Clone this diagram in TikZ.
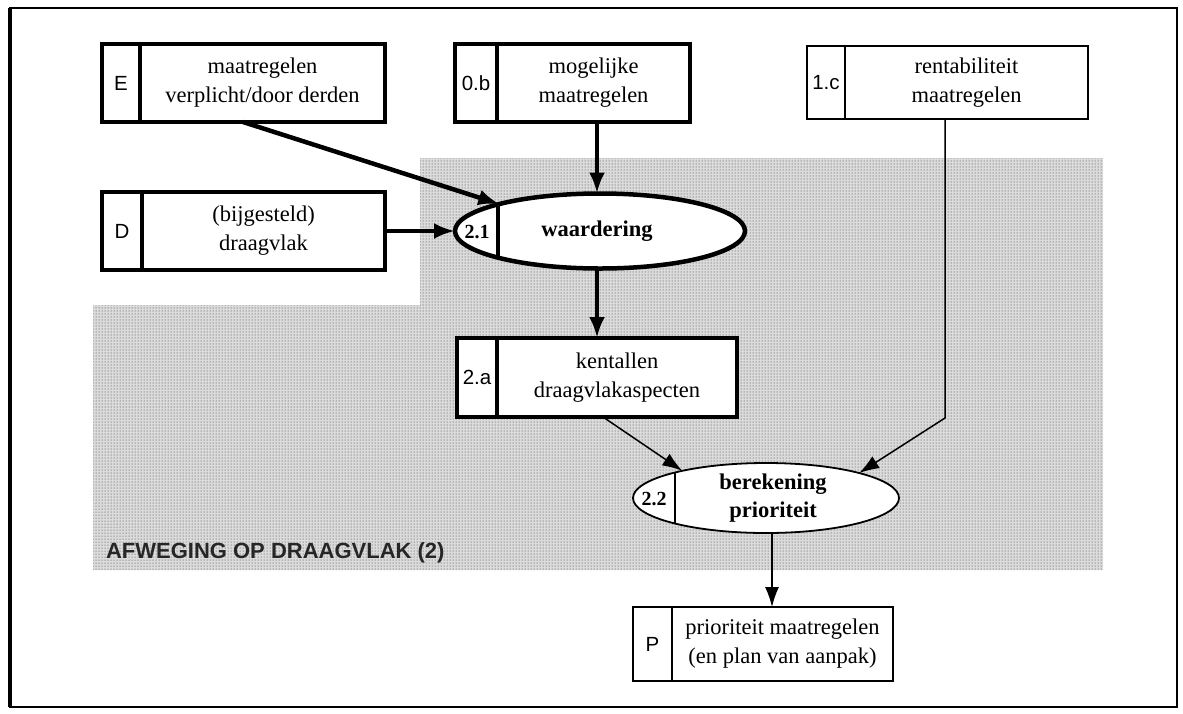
\documentclass[tikz,border=0pt]{standalone}
\usepackage{fontspec}
\setmainfont{Liberation Serif}
\newfontfamily\tagfont{Liberation Sans}
\usetikzlibrary{shapes.geometric,arrows.meta,patterns}

\begin{document}
\begin{tikzpicture}[x=1pt,y=-1pt,
  every node/.style={outer sep=0pt, inner sep=0pt},
  heavy/.style={line width=4.5pt},
  light/.style={line width=1.8pt},
  tagcell/.style={draw, fill=white, font=\tagfont\fontsize{20.5}{24}\selectfont, align=center},
  textcell/.style={draw, fill=white, font=\fontsize{22.5}{29}\selectfont, align=center},
  procnum/.style={font=\bfseries\fontsize{20}{22}\selectfont},
  proctext/.style={font=\bfseries\fontsize{22.5}{28}\selectfont, align=center},
  bigarrow/.style={line width=4.5pt, -{Latex[length=21pt,width=16pt]}},
  smallarrow/.style={line width=1.5pt, -{Latex[length=20pt,width=14pt]}}
]
\useasboundingbox (0,0) rectangle (1183,713);

% outer frame
\draw[line width=2pt] (10,8) rectangle (1177,707);
\draw[line width=4pt] (10,8) -- (10,707);

% shaded area of the weighing step
\path[fill=black!14]
  (93,305) -- (420,305) -- (420,158) -- (1103,158) -- (1103,570) -- (93,570) -- cycle;
\path[pattern=dots, pattern color=black!80]
  (93,305) -- (420,305) -- (420,158) -- (1103,158) -- (1103,570) -- (93,570) -- cycle;
\node[font=\tagfont\bfseries\fontsize{22}{25}\selectfont, anchor=west, text=black!85] (area) at (106,553) {AFWEGING OP DRAAGVLAK (2)};

% data stores
\node[textcell, heavy, minimum width=245, minimum height=78] (E) at (262.5,83) {maatregelen\\verplicht/door derden};
\node[tagcell, heavy, minimum width=38, minimum height=78, anchor=east] (Etag) at (E.west) {E};

\node[textcell, heavy, minimum width=193, minimum height=78] (Ob) at (593.5,83) {mogelijke\\maatregelen};
\node[tagcell, heavy, minimum width=42, minimum height=78, anchor=east] (Obtag) at (Ob.west) {0.b};

\node[textcell, light, minimum width=243, minimum height=73] (rc) at (966.5,82.5) {rentabiliteit\\maatregelen};
\node[tagcell, light, minimum width=38, minimum height=73, anchor=east] (rctag) at (rc.west) {1.c};

\node[textcell, heavy, minimum width=243, minimum height=78] (D) at (263.5,231) {(bijgesteld)\\draagvlak};
\node[tagcell, heavy, minimum width=40, minimum height=78, anchor=east] (Dtag) at (D.west) {D};

\node[textcell, heavy, minimum width=240, minimum height=79] (ka) at (617,377.5) {kentallen\\draagvlakaspecten};
\node[tagcell, heavy, minimum width=40, minimum height=79, anchor=east] (katag) at (ka.west) {2.a};

\node[textcell, light, minimum width=221, minimum height=74] (P) at (782.5,644) {prioriteit maatregelen\\(en plan van aanpak)};
\node[tagcell, light, minimum width=39, minimum height=74, anchor=east] (Ptag) at (P.west) {P};

% process 2.1
\node[ellipse, draw, heavy, fill=white, minimum width=290, minimum height=75] (w21) at (600,231) {};
\begin{scope}
  \clip (600,231) ellipse [x radius=145, y radius=37.5];
  \draw[heavy] (498,150) -- (498,320);
\end{scope}
\node[procnum] (w21num) at (477,232) {2.1};
\node[proctext] (w21txt) at (597,231) {waardering};

% process 2.2
\node[ellipse, draw, light, fill=white, minimum width=266, minimum height=70] (w22) at (766,498) {};
\begin{scope}
  \clip (766,498) ellipse [x radius=133, y radius=35];
  \draw[light] (675,440) -- (675,560);
\end{scope}
\node[procnum] (w22num) at (654,499) {2.2};
\node[proctext] (w22txt) at (773,498) {berekening\\prioriteit};

% flows
\draw[bigarrow] ([xshift=-19.5pt]E.south) -- (w21.165);
\draw[bigarrow] (D.east) -- (w21.west);
\draw[bigarrow] ([xshift=3.5pt]Ob.south) -- ([xshift=3.5pt]Ob.south |- w21.north);
\draw[bigarrow] ([xshift=-3pt]w21.south) -- ([xshift=-3pt]w21.south |- ka.north);
\draw[smallarrow] ([xshift=-14pt]ka.south) -- (w22.162);
\coordinate (rcbend) at (945,418);
\draw[smallarrow] (rc.south -| rcbend) -- (rcbend) -- (w22.15);
\draw[smallarrow] ([xshift=6pt]w22.south) -- ([xshift=6pt]w22.south |- P.north);
\end{tikzpicture}
\end{document}
